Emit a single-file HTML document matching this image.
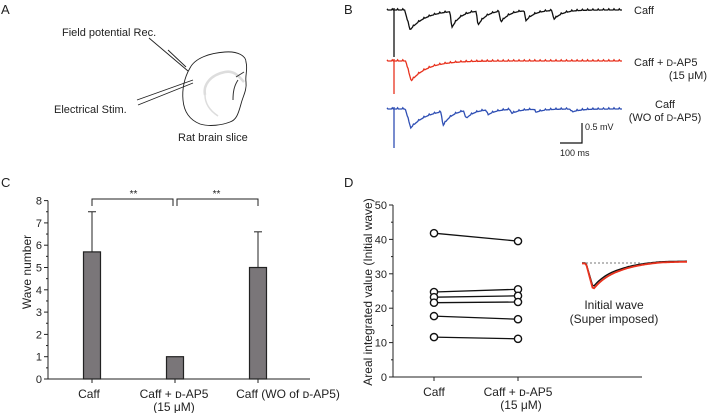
<!DOCTYPE html>
<html><head><meta charset="utf-8">
<style>
html,body{margin:0;padding:0;background:#fff;}
svg{display:block;font-family:"Liberation Sans",Arial,sans-serif;}
</style></head>
<body>
<svg width="708" height="413" viewBox="0 0 708 413" xmlns="http://www.w3.org/2000/svg">
<g font-size="13" fill="#222">
<text x="1" y="14">A</text>
<text x="344" y="14">B</text>
<text x="1" y="187">C</text>
<text x="344" y="187">D</text>
</g>

<!-- Panel A -->
<g font-size="11" fill="#222">
<text x="62" y="36">Field potential Rec.</text>
<text x="54" y="113">Electrical Stim.</text>
<text x="178" y="141">Rat brain slice</text>
<path d="M190,68 C195,58 210,53 225,52 C238,51 246,56 246,62 C248,70 245,75 246,82 C247,90 243,96 241,104 C238,115 236,120 230,122 C222,125 210,127 200,124 C190,120 184,112 183,100 C182,90 184,78 190,68 Z" fill="none" stroke="#222" stroke-width="0.9"/>
<path d="M205,95 C203,85 210,75 225,72 C235,70 240,78 244,82" fill="none" stroke="#ddd" stroke-width="2.5"/>
<path d="M205,95 C205,105 212,112 218,116" fill="none" stroke="#ddd" stroke-width="1.5"/>
<path d="M238,80 C234,86 233,92 233,100" fill="none" stroke="#333" stroke-width="1"/>
<path d="M236,77 L244,72" fill="none" stroke="#333" stroke-width="1"/>
<g stroke="#222" stroke-width="0.9">
<line x1="149" y1="38" x2="188" y2="71"/><line x1="168" y1="50" x2="186" y2="67"/>
</g>
<g stroke="#222" stroke-width="0.9">
<line x1="137" y1="100" x2="193" y2="80"/><line x1="138" y1="105" x2="193" y2="83"/>
</g>
</g>

<!-- Panel B -->
<g id="traces"></g>
<g font-size="11" fill="#222">
<text x="634" y="14">Caff</text>
<text x="634" y="66">Caff + <tspan font-size="9">D</tspan>-AP5</text>
<text x="707" y="79" text-anchor="end">(15 μM)</text>
<text x="665" y="108" text-anchor="middle">Caff</text>
<text x="665" y="121" text-anchor="middle">(WO of <tspan font-size="9">D</tspan>-AP5)</text>
</g>
<g>
<polyline points="582,123 582,143 560,143" fill="none" stroke="#111" stroke-width="1.2"/>
<text x="585" y="130" font-size="9" fill="#222">0.5 mV</text>
<text x="560" y="156" font-size="9" fill="#222">100 ms</text>
</g>

<g id="chartC"></g>
<g id="chartD"></g>
</svg>
<script>
const NS="http://www.w3.org/2000/svg";
function mk(parent,tag,attrs,text){const e=document.createElementNS(NS,tag);for(const k in attrs)e.setAttribute(k,attrs[k]);if(text!==undefined)e.textContent=text;parent.appendChild(e);return e;}

/* ---------- Panel B data ---------- */
const traceNames=["caff","caff-dap5","caff-washout"];
const traceColors=["#111111","#e8321e","#2f4fb4"];
const stimDepth=[47,33,39];
const blackDipTimes=[105,295,414,518,632,759];
const blackDipAmps=[20,16,14,11,10,9];
const redDipTimes=[110];
const redDipAmps=[20];
const blueDipTimes=[108,255,359,459,568,677,841];
const blueDipAmps=[19,14,8,5,4,3,3];
const baselines=[10,61,109];
const dipTimes=[blackDipTimes,redDipTimes,blueDipTimes];
const dipAmps=[blackDipAmps,redDipAmps,blueDipAmps];
const tScale=t=>387+t*0.22;
const traceG=document.getElementById('traces');
for(let k=0;k<3;k++){
  let pts=[];
  for(let t=0;t<=1070;t+=4){
    let v=0;
    dipTimes[k].forEach((t0,i)=>{const A=dipAmps[k][i];const tau=(i===0?75:40);const rise=(i===0?25:10);
      if(t>=t0-rise&&t<t0)v+=A*(t-(t0-rise))/rise; else if(t>=t0)v+=A*Math.exp(-(t-t0)/tau);});
    const jitter=((t/4)%6===0)?-1.2:0;
    pts.push(tScale(t).toFixed(1)+","+(baselines[k]+v+jitter).toFixed(1));
  }
  const p=mk(traceG,'polyline',{points:pts.join(' '),fill:'none',stroke:traceColors[k],'stroke-width':1.3});
  
  
  const s=mk(traceG,'line',{x1:394,x2:394,y1:baselines[k]-2,y2:baselines[k]+stimDepth[k],stroke:traceColors[k],'stroke-width':1.3});
  
  
}

/* ---------- Panel C data ---------- */
const cCategories=["Caff","Caff + D-AP5","Caff (WO of D-AP5)"];
const cValues=[5.7,1.0,5.0];
const cErrors=[1.8,0,1.6];
const cTicks=[0,1,2,3,4,5,6,7,8];
const cG=document.getElementById('chartC');
const cy=v=>379-v*22.3;
const cx=i=>92+i*83;
mk(cG,'line',{x1:48,x2:48,y1:cy(8),y2:379,stroke:'#222','stroke-width':1});
mk(cG,'line',{x1:48,x2:310,y1:379,y2:379,stroke:'#222','stroke-width':1});
cTicks.forEach(t=>{
  mk(cG,'line',{x1:44,x2:48,y1:cy(t),y2:cy(t),stroke:'#222'});
  if(t<8)mk(cG,'line',{x1:46,x2:48,y1:cy(t+0.5),y2:cy(t+0.5),stroke:'#222'});
  const tl=mk(cG,'text',{x:42,y:cy(t)+4,'text-anchor':'end','font-size':11,fill:'#222'},String(t));
  
  
});
const ct=mk(cG,'text',{x:31,y:272,'text-anchor':'middle','font-size':12,fill:'#222',transform:'rotate(-90 31 272)'},'Wave number');


cValues.forEach((v,i)=>{
  const x=cx(i);
  if(cErrors[i]>0){
    mk(cG,'line',{x1:x,x2:x,y1:cy(v+cErrors[i]),y2:cy(v),stroke:'#222','stroke-width':1});
    mk(cG,'line',{x1:x-4,x2:x+4,y1:cy(v+cErrors[i]),y2:cy(v+cErrors[i]),stroke:'#222','stroke-width':1});
  }
  const b=mk(cG,'rect',{x:x-8.5,y:cy(v),width:17,height:379-cy(v),fill:'#7a7679',stroke:'#222','stroke-width':1.2});
  
  
  mk(cG,'line',{x1:x,x2:x,y1:379,y2:383,stroke:'#222'});
});
const cLab=[["Caff"],["Caff + \u1D05-AP5","(15 μM)"],["Caff (WO of \u1D05-AP5)"]];
const cLabX=[89,174,288];
cLab.forEach((ls,i)=>ls.forEach((l,j)=>{
  const t=mk(cG,'text',{x:cLabX[i],y:398+j*13,'text-anchor':'middle','font-size':12,fill:'#222'},l);
  
  
}));
const br=mk(cG,'g',{stroke:'#222','stroke-width':1,fill:'none'});


mk(br,'polyline',{points:`${cx(0)},206 ${cx(0)},199 ${cx(1)-2},199 ${cx(1)-2},206`});
mk(br,'polyline',{points:`${cx(1)+2},206 ${cx(1)+2},199 ${cx(2)},199 ${cx(2)},206`});
[ (cx(0)+cx(1))/2, (cx(1)+cx(2))/2 ].forEach(x=>{
  const s=mk(cG,'text',{x:x,y:197,'text-anchor':'middle','font-size':10,fill:'#222'},'**');
  
  
});

/* ---------- Panel D data ---------- */
const dCategories=["Caff","Caff + D-AP5"];
const dBefore=[41.8,24.7,23.2,21.6,17.7,11.6];
const dAfter=[39.5,25.5,23.6,21.8,16.8,11.1];
const dTicks=[0,10,20,30,40,50];
const dG=document.getElementById('chartD');
const dy=v=>377-v*3.44;
const dx=i=>434+i*84;
mk(dG,'line',{x1:393,x2:393,y1:dy(50),y2:377,stroke:'#222'});
mk(dG,'line',{x1:393,x2:642,y1:377,y2:377,stroke:'#222'});
dTicks.forEach(t=>{
  mk(dG,'line',{x1:389,x2:393,y1:dy(t),y2:dy(t),stroke:'#222'});
  if(t<50)mk(dG,'line',{x1:391,x2:393,y1:dy(t+5),y2:dy(t+5),stroke:'#222'});
  const tl=mk(dG,'text',{x:387,y:dy(t)+4,'text-anchor':'end','font-size':11,fill:'#222'},String(t));
  
  
});
const dtt=mk(dG,'text',{x:372,y:292,'text-anchor':'middle','font-size':12,fill:'#222',transform:'rotate(-90 372 292)'},'Areal integrated value (Initial wave)');


dBefore.forEach((v,i)=>{
  const l=mk(dG,'line',{x1:dx(0),y1:dy(v),x2:dx(1),y2:dy(dAfter[i]),stroke:'#111','stroke-width':1.3});
  
  
  [[0,v],[1,dAfter[i]]].forEach(([k,val])=>{
    const c=mk(dG,'circle',{cx:dx(k),cy:dy(val),r:3.6,fill:'#fff',stroke:'#111','stroke-width':1.4});
    
    
  });
});
dCategories.forEach((c,i)=>mk(dG,'line',{x1:dx(i),x2:dx(i),y1:377,y2:381,stroke:'#222'}));
[["Caff"],["Caff + \u1D05-AP5","(15 μM)"]].forEach((ls,i)=>ls.forEach((l,j)=>{
  const t=mk(dG,'text',{x:dx(i)+(j?3:0),y:396+j*13,'text-anchor':'middle','font-size':12,fill:'#222'},l);
  
  
}));
const inset=mk(dG,'g',{});


mk(inset,'line',{x1:582,x2:640,y1:263,y2:263,stroke:'#777','stroke-dasharray':'2,2'});
const insetColors=["#111","#e8321e"];
const insetAmp=[24,26];
insetColors.forEach((col,k)=>{
  let pts=[];
  for(let x=582;x<=687;x+=1.5){
    let v=0;
    if(x>=586&&x<593)v=insetAmp[k]*(x-586)/7;else if(x>=593)v=insetAmp[k]*Math.exp(-(x-593)/(20+k*1));
    pts.push(x+","+(263+v-2*Math.min(1,Math.max(0,(x-620)/40))+(k?0.5:0)).toFixed(1));
  }
  mk(inset,'polyline',{points:pts.join(' '),fill:'none',stroke:col,'stroke-width':k?1.8:1.4});
});
mk(inset,'text',{x:614,y:309,'text-anchor':'middle','font-size':12,fill:'#222'},'Initial wave');
mk(inset,'text',{x:614,y:323,'text-anchor':'middle','font-size':12,fill:'#222'},'(Super imposed)');
</script>
</body></html>
